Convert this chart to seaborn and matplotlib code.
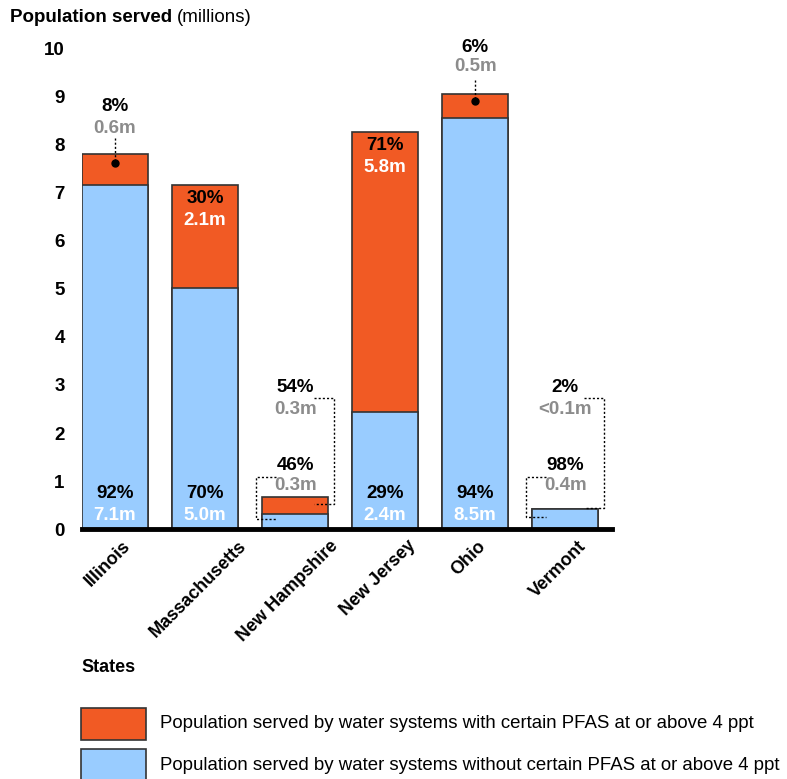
import matplotlib
matplotlib.use("Agg")
import matplotlib.pyplot as plt
from matplotlib.patches import Rectangle
import matplotlib.transforms as mtransforms
import seaborn as sns
import pandas as pd
import numpy as np

states = ["Illinois", "Massachusetts", "New Hampshire", "New Jersey", "Ohio", "Vermont"]
with_pfas = [0.64, 2.15, 0.36, 5.83, 0.50, 0.01]
without_pfas = [7.17, 5.02, 0.31, 2.44, 8.56, 0.41]
pct_with = ["8%", "30%", "54%", "71%", "6%", "2%"]
pct_without = ["92%", "70%", "46%", "29%", "94%", "98%"]
lbl_with = ["0.6m", "2.1m", "0.3m", "5.8m", "0.5m", "<0.1m"]
lbl_without = ["7.1m", "5.0m", "0.3m", "2.4m", "8.5m", "0.4m"]
yticks = [0, 1, 2, 3, 4, 5, 6, 7, 8, 9, 10]

RED = "#F15A24"
BLUE = "#99CCFF"
EDGE = "#333333"
GRAY = "#8C8C8C"
FONT = ["Liberation Sans", "DejaVu Sans"]
FS = 13.5

sns.set_theme(style="white")
plt.rcParams["font.family"] = FONT
plt.rcParams["text.color"] = "black"
plt.rcParams["xtick.color"] = "black"
plt.rcParams["ytick.color"] = "black"
plt.rcParams["xtick.labelcolor"] = "black"
plt.rcParams["ytick.labelcolor"] = "black"

df = pd.DataFrame({"state": states,
                   "with": with_pfas,
                   "without": without_pfas})
df["total"] = df["with"] + df["without"]

fig = plt.figure(figsize=(7.87, 7.79), dpi=100)
ax = fig.add_axes([82 / 787, 250 / 779, 530 / 787, 480 / 779])

sns.barplot(data=df, x="state", y="total", color=RED, saturation=1,
            edgecolor=EDGE, linewidth=1.2, width=0.733, ax=ax)
sns.barplot(data=df, x="state", y="without", color=BLUE, saturation=1,
            edgecolor=EDGE, linewidth=1.2, width=0.733, ax=ax)

ax.set_xlim(-0.367, 5.52)
ax.set_ylim(0, 10)
ax.set_yticks(yticks)
ax.set_yticklabels([str(t) for t in yticks], fontsize=FS, fontweight="bold",
                   color="black")
ax.tick_params(axis="y", length=0, pad=12.5)
ax.tick_params(axis="x", length=0, pad=6)
ax.set_xticks(range(len(states)))
ax.set_xticklabels(states, rotation=45, ha="center", va="top",
                   fontsize=13, fontweight="bold", color="black")
shift = mtransforms.ScaledTranslation(-7 / 100, 0, fig.dpi_scale_trans)
for lab in ax.get_xticklabels():
    lab.set_transform(lab.get_transform() + shift)
ax.set_xlabel("")
ax.set_ylabel("")
for s in ["top", "right", "left"]:
    ax.spines[s].set_visible(False)
ax.spines["bottom"].set_color("black")
ax.spines["bottom"].set_linewidth(3.5)
ax.grid(False)

def txt(x, y, s, color="black"):
    ax.text(x, y, s, ha="center", va="center", fontsize=FS,
            fontweight="bold", color=color, clip_on=False)

# Blue bars with labels at bottom
for i in [0, 1, 3, 4]:
    txt(i, 0.73, pct_without[i])
    txt(i, 0.29, lbl_without[i], "white")

# Large red segments: labels inside near top
for i in [1, 3]:
    top = with_pfas[i] + without_pfas[i]
    txt(i, top - 0.29, pct_with[i])
    txt(i, top - 0.74, lbl_with[i], "white")

# Small red segments: labels above with dotted leader and dot
for i, (yp, ym, y0, y1) in {0: (8.81, 8.35, 8.15, 7.62),
                            4: (10.04, 9.63, 9.35, 8.92)}.items():
    txt(i, yp, pct_with[i])
    txt(i, ym, lbl_with[i], GRAY)
    ax.plot([i, i], [y0, y1], ls=(0, (1.5, 1.5)), color="black", lw=1, clip_on=False)
    ax.plot([i], [y1], "o", color="black", ms=5, clip_on=False)

# Tiny bars: bracketed callouts
for i in [2, 5]:
    bot_y = 0.52 if i == 2 else 0.44
    txt(i, 2.94, pct_with[i])
    txt(i, 2.48, lbl_with[i], GRAY)
    ax.plot([i + 0.21, i + 0.433, i + 0.433, i + 0.21],
            [2.73, 2.73, bot_y, bot_y], ls=(0, (1.5, 1.5)), color="black",
            lw=1, clip_on=False)
    txt(i, 1.33, pct_without[i])
    txt(i, 0.90, lbl_without[i], GRAY)
    lb = 0.21 if i == 2 else 0.25
    ax.plot([i - 0.21, i - 0.433, i - 0.433, i - 0.21],
            [1.08, 1.08, lb, lb], ls=(0, (1.5, 1.5)), color="black",
            lw=1, clip_on=False)

# Title
fig.text(10 / 787, 1 - 18 / 779, "Population served", fontsize=FS,
         fontweight="bold", ha="left", va="center", color="black")
fig.text(177 / 787, 1 - 18 / 779, "(millions)", fontsize=FS,
         ha="left", va="center", color="black")

# Legend
fig.text(81 / 787, 1 - 668 / 779, "States", fontsize=13, fontweight="bold",
         ha="left", va="center", color="black")
for (ytop, col, label) in [(708, RED, "Population served by water systems with certain PFAS at or above 4 ppt"),
                           (749, BLUE, "Population served by water systems without certain PFAS at or above 4 ppt")]:
    fig.add_artist(Rectangle((81 / 787, 1 - (ytop + 32) / 779), 65 / 787, 32 / 779,
                             transform=fig.transFigure, facecolor=col,
                             edgecolor=EDGE, linewidth=1.2, clip_on=False))
    fig.text(160 / 787, 1 - (ytop + 16) / 779, label, fontsize=13.4,
             ha="left", va="center", color="black")

fig.savefig("out.png", dpi=100)
